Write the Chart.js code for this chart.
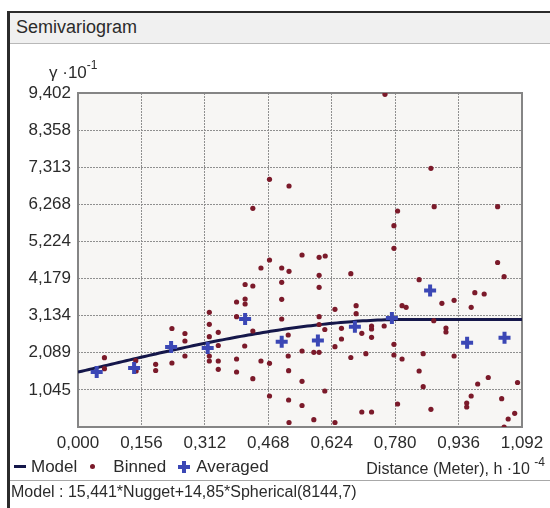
<!DOCTYPE html>
<html>
<head>
<meta charset="utf-8">
<script src="https://cdn.jsdelivr.net/npm/chart.js@4.4.0/dist/chart.umd.min.js"></script>
<style>
  html, body { margin: 0; padding: 0; background: #ffffff; }
  #wrap { position: relative; width: 550px; height: 508px; overflow: hidden;
          font-family: "Liberation Sans", Arial, sans-serif; color: #2b2b2b; }
  #c { position: absolute; left: 0; top: 0; }
  .abs { position: absolute; white-space: nowrap; }
  sup { font-size: 12px; position: relative; top: -2px; }
  .lg-line { display: inline-block; width: 12px; height: 3px; background: #15174a; vertical-align: middle; margin-right: 5px; position: relative; top: -1px; }
  .lg-dot { display: inline-block; width: 5px; height: 5px; border-radius: 50%; background: #7b1a2a; vertical-align: middle; margin: 0 18px 0 13px; position: relative; top: -1px; }
  .lg-cross { display: inline-block; position: relative; width: 12px; height: 12px; vertical-align: middle; margin: 0 6px 0 12px; top: -1px; }
  .lg-cross::before { content: ""; position: absolute; left: 0; top: 4px; width: 12px; height: 4px; background: #3b47b5; }
  .lg-cross::after { content: ""; position: absolute; left: 4px; top: 0; width: 4px; height: 12px; background: #3b47b5; }
</style>
</head>
<body>
<div id="wrap">
  <div class="abs" style="left:10px;top:13px;width:540px;height:30px;background:#f0f0f0;border-bottom:1px solid #b8b8b8"></div>
  <div class="abs" style="left:7px;top:11px;width:3px;height:497px;background:#2b2b2b"></div>
  <div class="abs" style="left:7px;top:11px;width:543px;height:2px;background:#2b2b2b"></div>
  <div class="abs" style="left:16px;top:17px;font-size:18px;">Semivariogram</div>
  <canvas id="c" width="550" height="508"></canvas>
  <div class="abs" id="yunit" style="left:49px;top:60px;font-size:17px;">γ ·10<sup>-1</sup></div>
  <div class="abs" id="legend" style="left:14px;top:457px;font-size:17px;"></div>
  <div class="abs" id="xunit" style="right:5px;top:457px;font-size:16px;">Distance (Meter), h ·10 <sup>-4</sup></div>
  <div class="abs" style="left:10px;top:480px;width:540px;height:1px;background:#a8a8a8"></div>
  <div class="abs" id="modeltext" style="left:11px;top:483px;font-size:16px;"></div>
</div>
<script>
// Axis tick labels (decimal comma), x in h·10^-4 m, y in γ·10^-1
const xTickLabels = ['0,000', '0,156', '0,312', '0,468', '0,624', '0,780', '0,936', '1,092'];
const yTickLabels = ['1,045', '2,089', '3,134', '4,179', '5,224', '6,268', '7,313', '8,358', '9,402'];

// Binned semivariance cloud
const binnedX = [0.065, 0.065, 0.142, 0.143, 0.191, 0.191, 0.231, 0.231, 0.263, 0.263,
  0.263, 0.323, 0.323, 0.323, 0.323, 0.323, 0.345, 0.345, 0.345, 0.345,
  0.390, 0.411, 0.430, 0.411, 0.411, 0.390, 0.430, 0.410, 0.390, 0.390,
  0.430, 0.450, 0.471, 0.471, 0.471, 0.450, 0.501, 0.519, 0.593, 0.608,
  0.551, 0.593, 0.593, 0.671, 0.501, 0.501, 0.501, 0.593, 0.632, 0.684,
  0.684, 0.593, 0.607, 0.517, 0.648, 0.648, 0.698, 0.722, 0.722, 0.517,
  0.551, 0.580, 0.593, 0.632, 0.671, 0.708, 0.518, 0.551, 0.607, 0.518,
  0.551, 0.698, 0.722, 0.519, 0.580, 0.632, 0.471, 0.519, 0.430, 0.755,
  0.868, 0.876, 0.786, 0.777, 0.777, 1.032, 1.032, 1.048, 0.839, 0.895,
  0.925, 0.976, 0.999, 0.967, 0.797, 0.807, 0.875, 0.905, 0.905, 0.753,
  0.722, 0.777, 0.777, 0.797, 0.849, 0.925, 0.839, 0.849, 1.009, 0.983,
  1.081, 0.967, 0.956, 0.956, 1.042, 1.074, 1.058, 1.048, 0.786, 0.868];
const binnedY = [1.951, 1.641, 1.866, 1.576, 1.765, 1.590, 2.773, 1.802, 2.632, 2.421,
  1.999, 3.229, 2.891, 2.542, 1.999, 1.858, 2.666, 2.294, 1.858, 1.624,
  3.519, 4.011, 3.969, 3.603, 3.462, 3.105, 2.702, 2.280, 1.914, 1.548,
  1.360, 1.858, 1.793, 0.873, 4.701, 4.476, 4.476, 4.383, 4.777, 4.814,
  4.842, 4.270, 3.933, 4.315, 4.073, 3.595, 3.040, 3.105, 3.313, 3.415,
  3.189, 2.885, 2.745, 2.590, 2.778, 2.477, 2.638, 2.843, 2.759, 1.999,
  2.139, 2.103, 2.103, 2.260, 1.956, 2.063, 1.585, 1.286, 1.013, 0.760,
  0.605, 0.422, 0.422, 0.127, 0.205, 0.127, 6.973, 6.784, 6.156, 9.366,
  7.283, 6.202, 6.080, 5.667, 5.030, 6.202, 4.631, 4.231, 4.146, 3.482,
  3.567, 3.781, 3.744, 3.370, 3.415, 3.370, 2.992, 2.787, 2.674, 2.843,
  2.525, 2.328, 2.027, 1.914, 2.063, 1.999, 1.576, 1.134, 1.393, 1.210,
  1.253, 0.873, 0.676, 0.563, 0.797, 0.386, 0.225, 0.000, 0.647, 0.498];

// Lag-averaged semivariance
const avgX = [0.046, 0.138, 0.229, 0.319, 0.411, 0.501, 0.590, 0.681, 0.772, 0.866, 0.957, 1.049];
const avgY = [1.548, 1.661, 2.252, 2.224, 3.040, 2.401, 2.435, 2.823, 3.068, 3.842, 2.373, 2.514];

// Fitted spherical model (γ units, range in meters)
const nugget = 15.441;
const partialSill = 14.85;
const rangeMeters = 8144.7;
const yUnit = 0.1;    // γ·10^-1
const xUnit = 1e-4;   // h·10^-4

const toLabel = (s) => s.split(',').join('.');
const xTicks = xTickLabels.map(s => parseFloat(toLabel(s)));
const yTicks = yTickLabels.map(s => parseFloat(toLabel(s)));
const xMax = xTicks[xTicks.length - 1];
const yMax = yTicks[yTicks.length - 1];

function sphericalModel(h) {
  const r = h / rangeMeters;
  const s = r >= 1 ? 1 : 1.5 * r - 0.5 * r * r * r;
  return nugget + partialSill * s;
}
const modelPts = [];
const hEnd = xMax / xUnit;
for (let i = 0; i <= 120; i++) {
  const h = hEnd * i / 120;
  modelPts.push({ x: h * xUnit, y: sphericalModel(h) * yUnit });
}

const comma = (v) => String(v).replace('.', ',');
document.getElementById('modeltext').textContent =
  'Model : ' + comma(nugget) + '*Nugget+' + comma(partialSill) + '*Spherical(' + comma(rangeMeters) + ')';
document.getElementById('legend').innerHTML =
  '<span class="lg-line"></span>Model<span class="lg-dot"></span>Binned<span class="lg-cross"></span>Averaged';

const plotFrame = {
  id: 'plotFrame',
  beforeDraw(chart) {
    const { ctx, chartArea: a } = chart;
    ctx.save();
    ctx.fillStyle = '#f7f6f4';
    ctx.fillRect(a.left, a.top, a.right - a.left, a.bottom - a.top);
    ctx.restore();
  },
  beforeDatasetsDraw(chart) {
    const { ctx, chartArea: a } = chart;
    ctx.save();
    ctx.strokeStyle = '#858585';
    ctx.lineWidth = 2;
    ctx.strokeRect(a.left, a.top, a.right - a.left, a.bottom - a.top);
    ctx.restore();
  }
};

const tickFont = { family: '"Liberation Sans", Arial, sans-serif', size: 17 };

new Chart(document.getElementById('c'), {
  type: 'scatter',
  data: {
    datasets: [
      {
        label: 'Averaged',
        data: avgX.map((x, i) => ({ x, y: avgY[i] })),
        pointStyle: 'cross',
        pointRadius: 6,
        pointBorderWidth: 4,
        borderColor: '#3b47b5',
        backgroundColor: '#3b47b5',
        order: 0
      },
      {
        label: 'Binned',
        data: binnedX.map((x, i) => ({ x, y: binnedY[i] })),
        pointStyle: 'circle',
        pointRadius: 2.6,
        pointBorderWidth: 0,
        backgroundColor: '#7b1a2a',
        borderColor: '#7b1a2a',
        order: 1
      },
      {
        label: 'Model',
        type: 'line',
        data: modelPts,
        borderColor: '#15174a',
        borderWidth: 3,
        pointRadius: 0,
        tension: 0,
        fill: false,
        order: 2
      }
    ]
  },
  options: {
    responsive: false,
    animation: false,
    events: [],
    layout: { padding: { left: 0, top: 93, right: 28, bottom: 0 } },
    plugins: { legend: { display: false }, tooltip: { enabled: false } },
    scales: {
      x: {
        type: 'linear',
        min: 0,
        max: xMax,
        afterFit(scale) { scale.height = 81; },
        afterBuildTicks(scale) { scale.ticks = xTicks.map(v => ({ value: v })); },
        ticks: {
          autoSkip: false,
          maxRotation: 0,
          padding: 6,
          color: '#2b2b2b',
          font: tickFont,
          callback: (v, i) => xTickLabels[i]
        },
        grid: { color: '#8f8f8f', lineWidth: 1, drawTicks: false },
        border: { display: false, dash: [2, 1] }
      },
      y: {
        type: 'linear',
        min: 0,
        max: yMax,
        afterFit(scale) { scale.width = 78; },
        afterBuildTicks(scale) { scale.ticks = yTicks.map(v => ({ value: v })); },
        ticks: {
          autoSkip: false,
          padding: 7,
          color: '#2b2b2b',
          font: tickFont,
          callback: (v, i) => yTickLabels[i]
        },
        grid: { color: '#8f8f8f', lineWidth: 1, drawTicks: false },
        border: { display: false, dash: [2, 1] }
      }
    }
  },
  plugins: [plotFrame]
});
</script>
</body>
</html>
